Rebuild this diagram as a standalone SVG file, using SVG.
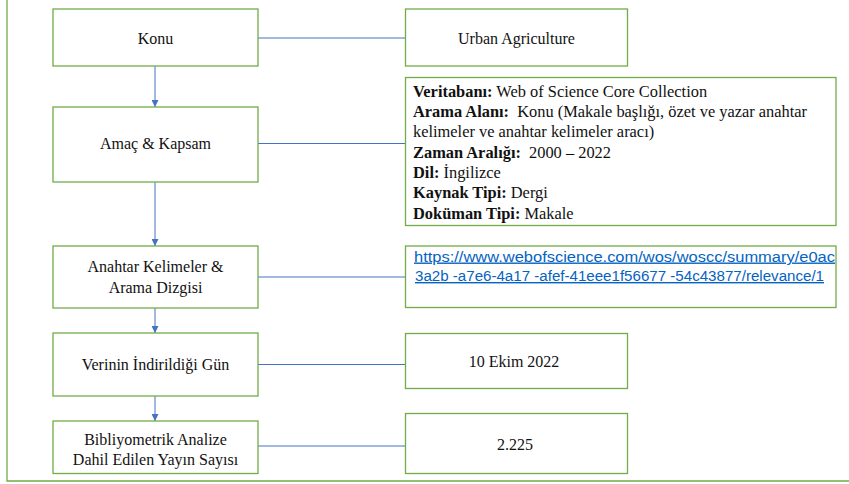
<svg xmlns="http://www.w3.org/2000/svg" width="849" height="484" viewBox="0 0 849 484">
<defs>
<style>
.box{fill:#fff;stroke:#70AD47;stroke-width:1.3}
.frame{fill:none;stroke:#70AD47;stroke-width:1.3}
.con{stroke:#4472C4;stroke-width:1;fill:none}
.t{font-family:"Liberation Serif","Times New Roman",serif;font-size:16px;fill:#111}
.v{font-size:16.4px}
.c{text-anchor:middle}
.b{font-weight:bold}
.url{font-family:"Liberation Sans",Arial,sans-serif;font-size:14px;fill:#0563C1;text-decoration:underline}
</style>
<marker id="ah" viewBox="0 0 10 10" refX="10" refY="5" markerWidth="7" markerHeight="7" markerUnits="userSpaceOnUse" orient="auto">
<path d="M0,0 L10,5 L0,10 z" fill="#4472C4"/>
</marker>
</defs>
<rect width="849" height="484" fill="#fff"/>
<path class="frame" d="M7,0 V481 H849"/>
<g id="connectors">
<line class="con" x1="155" y1="66" x2="155" y2="107" marker-end="url(#ah)"/>
<line class="con" x1="155" y1="182" x2="155" y2="246" marker-end="url(#ah)"/>
<line class="con" x1="155" y1="308" x2="155" y2="333" marker-end="url(#ah)"/>
<line class="con" x1="155" y1="396" x2="155" y2="421" marker-end="url(#ah)"/>
<line class="con" x1="258" y1="38" x2="405" y2="38"/>
<line class="con" x1="258" y1="143.5" x2="405" y2="143.5"/>
<line class="con" x1="258" y1="277" x2="405" y2="277"/>
<line class="con" x1="258" y1="364.5" x2="405" y2="364.5"/>
<line class="con" x1="258" y1="446" x2="405" y2="446"/>
</g>
<g id="konu">
<rect class="box" x="53" y="9" width="205" height="57"/>
<text class="t c" x="155.5" y="43.5">Konu</text>
</g>
<g id="urban">
<rect class="box" x="405.5" y="9" width="222" height="57"/>
<text class="t c" x="516.5" y="43.5">Urban Agriculture</text>
</g>
<g id="amac">
<rect class="box" x="53" y="107" width="205" height="75"/>
<text class="t c" x="155.5" y="149">Amaç &amp; Kapsam</text>
</g>
<g id="veritabani">
<rect class="box" x="405.5" y="77.5" width="430.5" height="148"/>
<text class="t v" x="413" y="96.5"><tspan class="b">Veritabanı:</tspan> Web of Science Core Collection</text>
<text class="t v" x="413" y="117"><tspan class="b">Arama Alanı:</tspan><tspan dx="4"> Konu (Makale başlığı, özet ve yazar anahtar</tspan></text>
<text class="t v" x="413" y="137.3">kelimeler ve anahtar kelimeler aracı)</text>
<text class="t v" x="413" y="157.5"><tspan class="b">Zaman Aralığı:</tspan><tspan dx="4"> 2000 – 2022</tspan></text>
<text class="t v" x="413" y="177.7"><tspan class="b">Dil:</tspan> İngilizce</text>
<text class="t v" x="413" y="198.2"><tspan class="b">Kaynak Tipi:</tspan> Dergi</text>
<text class="t v" x="413" y="218.5"><tspan class="b">Doküman Tipi:</tspan> Makale</text>
</g>
<g id="anahtar">
<rect class="box" x="53" y="246" width="205" height="62"/>
<text class="t c" x="155.5" y="272">Anahtar Kelimeler &amp;</text>
<text class="t c" x="155.5" y="292.5">Arama Dizgisi</text>
</g>
<g id="url">
<rect class="box" x="405.5" y="246" width="430.5" height="61.5"/>
<text class="url" x="414" y="261.5" textLength="421" lengthAdjust="spacingAndGlyphs">https://www.webofscience.com/wos/woscc/summary/e0ac</text>
<text class="url" x="415" y="281" textLength="409" lengthAdjust="spacingAndGlyphs">3a2b -a7e6-4a17 -afef-41eee1f56677 -54c43877/relevance/1</text>
</g>
<g id="verinin">
<rect class="box" x="53" y="333" width="205" height="63"/>
<text class="t c" x="155.5" y="370">Verinin İndirildiği Gün</text>
</g>
<g id="ekim">
<rect class="box" x="405.5" y="333.5" width="222" height="55"/>
<text class="t c" x="514" y="367">10 Ekim 2022</text>
</g>
<g id="bibliyometrik">
<rect class="box" x="53" y="421" width="205" height="52.5"/>
<text class="t c" x="155.5" y="444.5">Bibliyometrik Analize</text>
<text class="t c" x="155.5" y="464.5">Dahil Edilen Yayın Sayısı</text>
</g>
<g id="sayi">
<rect class="box" x="405.5" y="413.5" width="222" height="60"/>
<text class="t c" x="515" y="449.5">2.225</text>
</g>
</svg>
